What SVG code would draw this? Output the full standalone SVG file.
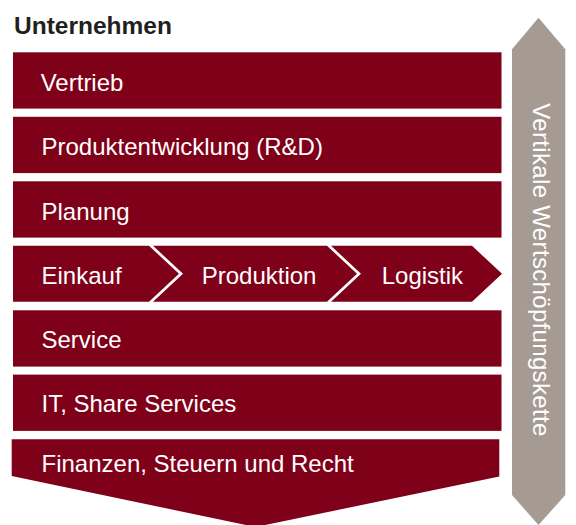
<svg xmlns="http://www.w3.org/2000/svg" width="576" height="525" viewBox="0 0 576 525">
  <style>
    .bar { fill: #7f0019; }
    .lbl { font-family: "Liberation Sans", Arial, Helvetica, sans-serif; font-size: 24px; fill: #ffffff; }
    .title { font-family: "Liberation Sans", Arial, Helvetica, sans-serif; font-size: 24.5px; font-weight: bold; fill: #231f20; }
    .grey { fill: #a69b93; }
  </style>
  <rect width="576" height="525" fill="#ffffff"/>
  <g id="title">
    <text class="title" x="14" y="34.3">Unternehmen</text>
  </g>
  <g id="vertrieb">
    <rect class="bar" x="13" y="52.3" width="488.5" height="56.3"/>
    <text class="lbl" x="40.7" y="91">Vertrieb</text>
  </g>
  <g id="produktentwicklung">
    <rect class="bar" x="13" y="116.8" width="488.5" height="56.3"/>
    <text class="lbl" x="41.5" y="155.3">Produktentwicklung (R&amp;D)</text>
  </g>
  <g id="planung">
    <rect class="bar" x="13" y="181.3" width="488.5" height="56.3"/>
    <text class="lbl" x="41.5" y="219.8">Planung</text>
  </g>
  <g id="einkauf">
    <polygon class="bar" points="13,245.8 149,245.8 179,273.8 149,301.8 13,301.8"/>
    <text class="lbl" x="41.5" y="283.5">Einkauf</text>
  </g>
  <g id="produktion">
    <polygon class="bar" points="153,245.8 327,245.8 357,273.8 327,301.8 153,301.8 183,273.8"/>
    <text class="lbl" x="201.7" y="283.5">Produktion</text>
  </g>
  <g id="logistik">
    <polygon class="bar" points="331,245.8 472,245.8 502,273.8 472,301.8 331,301.8 361,273.8"/>
    <text class="lbl" x="381.7" y="283.5">Logistik</text>
  </g>
  <g id="service">
    <rect class="bar" x="13" y="310.3" width="488.5" height="56.3"/>
    <text class="lbl" x="41.5" y="347.8">Service</text>
  </g>
  <g id="it">
    <rect class="bar" x="13" y="374.6" width="488.5" height="56.3"/>
    <text class="lbl" x="41.5" y="412">IT, Share Services</text>
  </g>
  <g id="finanzen">
    <polygon class="bar" points="11.7,439.3 499.3,439.3 499.3,476.5 255.5,527 11.7,476"/>
    <text class="lbl" x="41.5" y="471.7">Finanzen, Steuern und Recht</text>
  </g>
  <g id="wertschoepfungskette">
    <polygon class="grey" points="512,49.3 538.5,17.7 565.3,49.3 565.3,495 538.5,525 512,495"/>
    <text class="lbl" transform="translate(532.5,103.3) rotate(90)" x="0" y="0" textLength="333" lengthAdjust="spacing">Vertikale Wertschöpfungskette</text>
  </g>
  <g id="connectors"></g>
</svg>
